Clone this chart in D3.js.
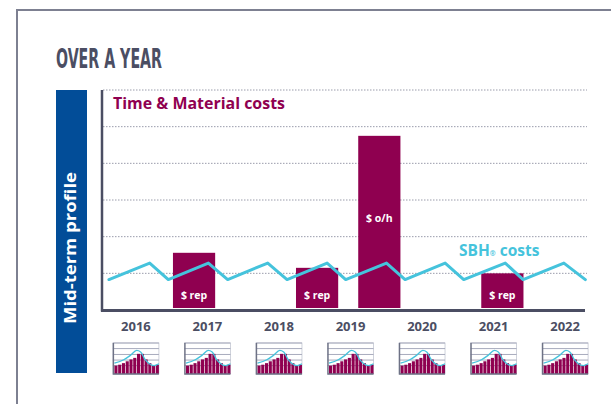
<!DOCTYPE html>
<html>
<head>
<meta charset="utf-8">
<script src="https://cdn.jsdelivr.net/npm/d3@7"></script>
<style>
  html, body { margin: 0; padding: 0; background: #fff; }
  svg { display: block; }
</style>
</head>
<body>
<svg id="chart" width="611" height="404"></svg>
<script>
// ---------- data ----------
const title = "OVER A YEAR";
const sideLabel = "Mid-term profile";
const seriesTM = "Time & Material costs";
const seriesSBH = "SBH";
const years = [2016, 2017, 2018, 2019, 2020, 2021, 2022];
const gridValues = [1, 2, 3, 4, 5, 6];
// Time & Material bars (position in years, value, label)
const barPos = [2016.82, 2018.54, 2019.41, 2021.13];
const barValues = [1.56, 1.15, 4.75, 1.0];
const barLabels = ["$ rep", "$ rep", "$ o/h", "$ rep"];
// SBH cost line (sawtooth)
const sbhX = [2015.63, 2016.20, 2016.46, 2017.02, 2017.29, 2017.85, 2018.12, 2018.68,
              2018.94, 2019.51, 2019.77, 2020.33, 2020.59, 2021.17, 2021.42, 2021.99, 2022.29];
const sbhY = [0.83, 1.28, 0.83, 1.28, 0.83, 1.28, 0.83, 1.28,
              0.83, 1.28, 0.83, 1.28, 0.83, 1.28, 0.83, 1.28, 0.83];
// yearly profile thumbnails
const thumbBars = [0.27, 0.30, 0.35, 0.41, 0.47, 0.52, 0.65, 0.65, 0.47, 0.35, 0.27, 0.30];
const thumbGrid = [0.27, 0.45, 0.63, 0.82, 1.0];
const thumbCurveX = [0.0, 0.21, 0.36, 0.50, 0.59, 0.68, 0.77, 0.89, 1.0];
const thumbCurveY = [0.35, 0.46, 0.60, 0.76, 0.71, 0.49, 0.35, 0.27, 0.33];

// ---------- style ----------
const C = {
  slate: "#4b4e63",
  frame: "#7d8091",
  grid: "#9a9cab",
  magenta: "#8f0050",
  cyan: "#45c3dc",
  blue: "#024d98"
};
const barWidthYears = 0.59;

const svg = d3.select("#chart");

// outer frame
svg.append("path")
  .attr("d", "M17,404 L17,10 L611,10")
  .attr("fill", "none").attr("stroke", C.frame).attr("stroke-width", 2);

// title
svg.append("text")
  .attr("x", 56).attr("y", 68)
  .attr("font-family", "'Liberation Sans Narrow','DejaVu Sans Condensed',sans-serif")
  .attr("font-weight", "bold")
  .attr("font-size", 26)
  .attr("fill", C.slate)
  .attr("textLength", 106).attr("lengthAdjust", "spacingAndGlyphs")
  .text(title);

// side blue band
svg.append("rect").attr("x", 56).attr("y", 90).attr("width", 31).attr("height", 283)
  .attr("fill", C.blue);
svg.append("text")
  .attr("transform", "translate(76,324) rotate(-90)")
  .attr("font-family", "'Open Sans','Noto Sans',sans-serif")
  .attr("font-weight", "bold").attr("font-size", 16.5)
  .attr("fill", "#fff")
  .attr("textLength", 152).attr("lengthAdjust", "spacingAndGlyphs")
  .text(sideLabel);

// scales
const x = d3.scaleLinear().domain([2016, 2022]).range([135.4, 564.6]);
const y = d3.scaleLinear().domain([0, 6]).range([310, 90]);

// gridlines
svg.append("g").selectAll("line").data(gridValues).join("line")
  .attr("x1", 103).attr("x2", 587)
  .attr("y1", d => y(d)).attr("y2", d => y(d))
  .attr("stroke", C.grid).attr("stroke-width", 1)
  .attr("stroke-dasharray", "1.5,1.5");

// bars
const bw = x(2016 + barWidthYears) - x(2016);
const bars = svg.append("g");
bars.selectAll("rect").data(barValues).join("rect")
  .attr("x", (d, i) => x(barPos[i]) - bw / 2)
  .attr("width", bw)
  .attr("y", d => y(d))
  .attr("height", d => y(0) - 2 - y(d))
  .attr("fill", C.magenta);
bars.selectAll("text").data(barLabels).join("text")
  .attr("x", (d, i) => x(barPos[i]))
  .attr("y", (d, i) => barValues[i] > 3 ? 222 : 298.5)
  .attr("text-anchor", "middle")
  .attr("font-family", "'Open Sans','Noto Sans',sans-serif")
  .attr("font-weight", "bold").attr("font-size", 10.5)
  .attr("fill", "#fff")
  .text(d => d);

// SBH line
const line = d3.line().x(d => x(d[0])).y(d => y(d[1]));
svg.append("path")
  .datum(sbhX.map((v, i) => [v, sbhY[i]]))
  .attr("d", line)
  .attr("fill", "none").attr("stroke", C.cyan).attr("stroke-width", 3)
  .attr("stroke-linejoin", "round").attr("stroke-linecap", "round");

// series labels
svg.append("text")
  .attr("x", 113).attr("y", 109)
  .attr("font-family", "'Open Sans','Noto Sans',sans-serif")
  .attr("font-weight", "bold").attr("font-size", 15.5)
  .attr("fill", C.magenta)
  .attr("textLength", 172).attr("lengthAdjust", "spacingAndGlyphs")
  .text(seriesTM);
const sbh = svg.append("text")
  .attr("x", 459).attr("y", 256)
  .attr("font-family", "'Open Sans','Noto Sans',sans-serif")
  .attr("font-weight", "bold").attr("font-size", 15.5)
  .attr("fill", C.cyan);
sbh.append("tspan").text(seriesSBH);
sbh.append("tspan").attr("font-size", 7).attr("dy", 0).text("®");
sbh.append("tspan").text(" costs");

// axes lines
svg.append("line").attr("x1", 102).attr("x2", 102).attr("y1", 90).attr("y2", 311.5)
  .attr("stroke", C.slate).attr("stroke-width", 2.5);
svg.append("line").attr("x1", 101).attr("x2", 585).attr("y1", y(0) + 0.5).attr("y2", y(0) + 0.5)
  .attr("stroke", C.slate).attr("stroke-width", 3);

// year axis labels
const xAxis = d3.axisBottom(x).tickValues(years).tickFormat(d3.format("d")).tickSize(0).tickPadding(0);
const gx = svg.append("g").attr("transform", "translate(0,320)").call(xAxis);
gx.select(".domain").remove();
gx.selectAll("text")
  .attr("dy", 0).attr("y", 10.7)
  .attr("font-family", "'Open Sans','Noto Sans',sans-serif")
  .attr("font-weight", "bold").attr("font-size", 13)
  .attr("fill", C.slate);

// thumbnails
const tw = 46, th = 31, ty = 343;
const tx = d3.scaleBand().domain(d3.range(thumbBars.length)).range([1.5, tw]).paddingInner(0.18);
const tyScale = d3.scaleLinear().domain([0, 1]).range([th, 0]);
const tcx = d3.scaleLinear().domain([0, 1]).range([1.5, tw]);
const tline = d3.line().x(d => tcx(d[0])).y(d => tyScale(d[1])).curve(d3.curveMonotoneX);

years.forEach(yr => {
  const g = svg.append("g").attr("transform", `translate(${x(yr) - tw / 2 + 0.5},${ty})`);
  g.append("rect").attr("x", 0).attr("y", 0).attr("width", tw).attr("height", th)
    .attr("fill", "#fff").attr("stroke", "#c4c7d3").attr("stroke-width", 0.8);
  g.selectAll(".tg").data(thumbGrid).join("line")
    .attr("x1", 0).attr("x2", tw)
    .attr("y1", d => tyScale(d)).attr("y2", d => tyScale(d))
    .attr("stroke", "#9ea2b6").attr("stroke-width", 0.9);
  g.selectAll(".tb").data(thumbBars).join("rect")
    .attr("x", (d, i) => tx(i)).attr("width", tx.bandwidth())
    .attr("y", d => tyScale(d)).attr("height", d => tyScale(0) - tyScale(d))
    .attr("fill", C.magenta);
  g.append("path")
    .datum(thumbCurveX.map((v, i) => [v, thumbCurveY[i]]))
    .attr("d", tline)
    .attr("fill", "none").attr("stroke", C.cyan).attr("stroke-width", 1.3);
  g.append("path").attr("d", `M0.5,0 L0.5,${th} L${tw},${th}`)
    .attr("fill", "none").attr("stroke", "#6e7285").attr("stroke-width", 1.4);
});
</script>
</body>
</html>
